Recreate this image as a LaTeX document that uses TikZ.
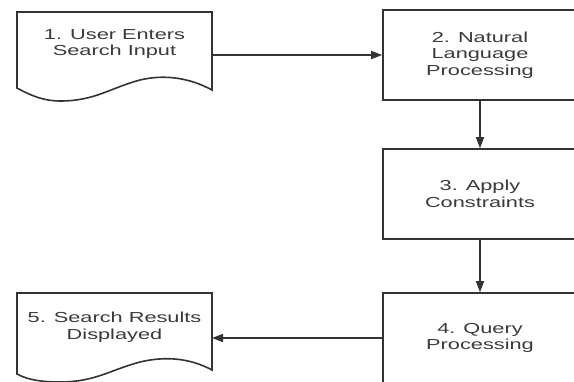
\documentclass[tikz,border=0pt]{standalone}
\usepackage{fontspec}
\newfontfamily\lab{Liberation Sans}[FakeStretch=1.5]
\usetikzlibrary{arrows.meta}
\definecolor{ln}{HTML}{333333}
\definecolor{tx}{HTML}{3A3A3A}
\begin{document}
\begin{tikzpicture}[x=1pt,y=-1pt,
 line/.style={draw=ln, line width=1.6pt},
 arr/.style={line, -{Triangle[length=11pt,width=8pt]}},
 lbl/.style={font=\lab\fontsize{14.5}{16.5}\selectfont, text=tx, align=center, inner sep=0pt},
 box/.style={line, lbl, minimum width=194pt, minimum height=90pt}]
\useasboundingbox (0,0) rectangle (574,381);
\fill[white] (0,0) rectangle (574,381);
\clip (0,0) rectangle (574,381);
% document 1
\draw[line, line join=miter] (17,88) -- (17,12) -- (212,12) -- (212,90)
  .. controls (190,78) and (165,74) .. (140,80)
  .. controls (110,88) and (95,101) .. (60,101)
  .. controls (42,101) and (28,94) .. (17,88) -- cycle;
\node[lbl] (d1) at (114.5,44) {1. User Enters\\Search Input};
\coordinate (d1r) at (212,55);
% document 5
\draw[line, line join=miter] (17,374) -- (17,293) -- (212,293) -- (212,370)
  .. controls (190,358) and (165,356) .. (140,362)
  .. controls (110,370) and (95,382) .. (60,382)
  .. controls (42,382) and (28,380) .. (17,374) -- cycle;
\node[lbl] (d5) at (114.5,327) {5. Search Results\\Displayed};
\coordinate (d5r) at (212,338);
% process boxes
\node[box] (b2) at (480,55) {2. Natural\\Language\\Processing};
\node[box] (b3) at (480,194) {3. Apply\\Constraints};
\node[box] (b4) at (480,338) {4. Query\\Processing};
% connectors
\draw[arr] (d1r) -- (b2.west);
\draw[arr] (b2.south) -- (b3.north);
\draw[arr] (b3.south) -- (b4.north);
\draw[arr] (b4.west) -- (d5r);
\end{tikzpicture}
\end{document}
